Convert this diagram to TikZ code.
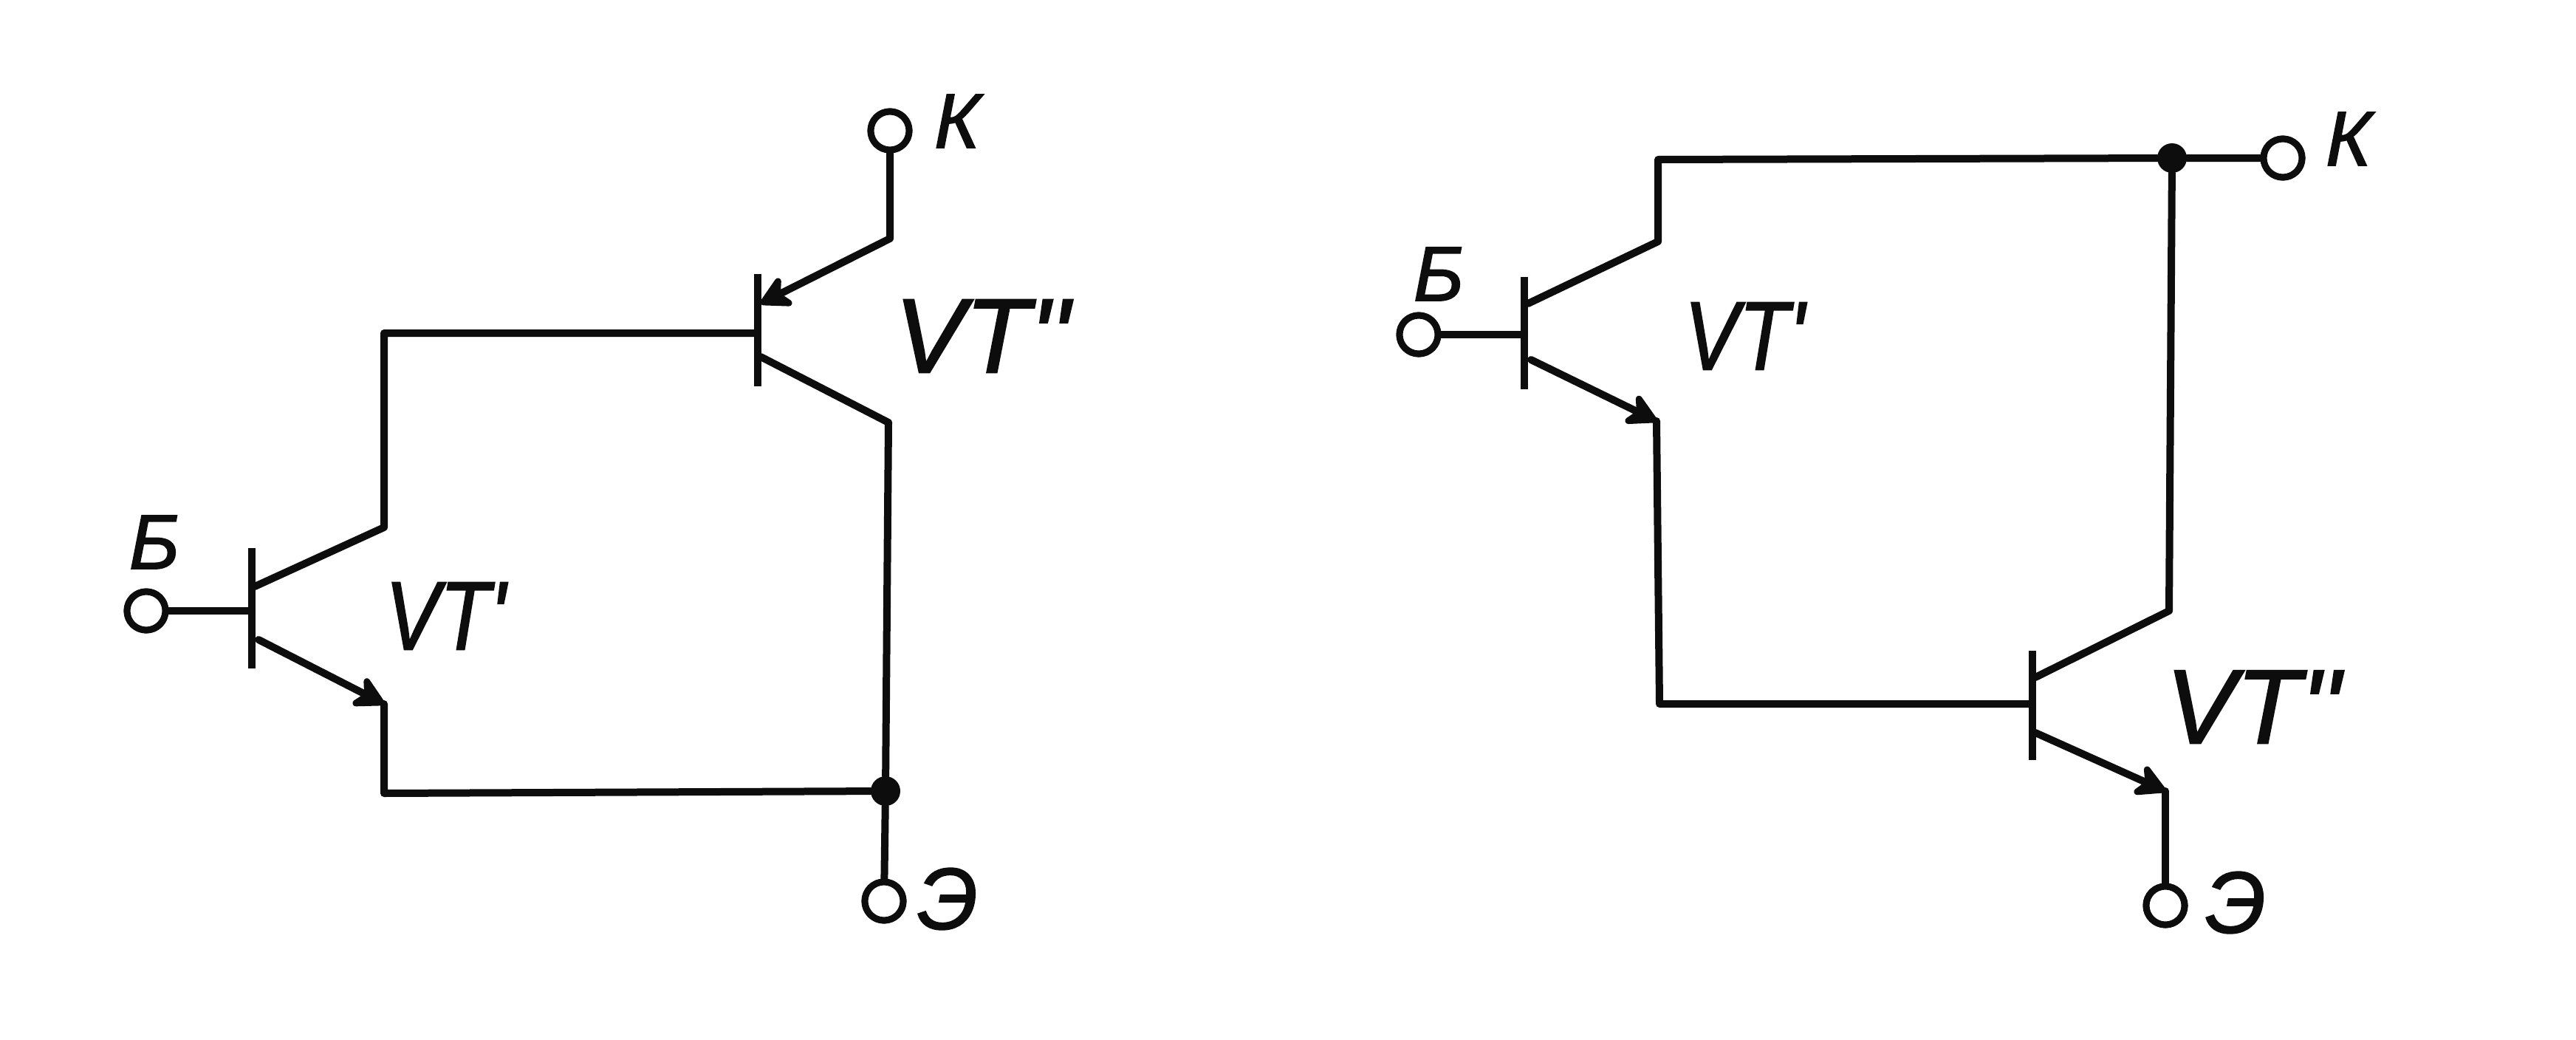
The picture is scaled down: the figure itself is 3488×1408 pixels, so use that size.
\documentclass[tikz,border=0pt]{standalone}
\usepackage{fontspec}
\usepackage{graphicx}
\usetikzlibrary{arrows.meta}
\newfontfamily\labfont[FakeBold=1.5]{Liberation Sans Italic}
\newcommand{\narrowed}[1]{\scalebox{0.84}[1]{#1}}
\tikzset{
  x=1pt,y=-1pt,
  wire/.style={draw=black!95,line width=10pt,line join=round,line cap=round},
  bar/.style={draw=black!95,line width=10pt,line cap=butt},
  emitarrow/.style={wire,-{Stealth[length=50pt,width=54pt,inset=15pt,round]}},
  term/.style={circle,draw=black!95,line width=9pt,fill=white,minimum size=52pt,inner sep=0pt},
  joint/.style={circle,fill=black!95,minimum size=40pt,inner sep=0pt},
  pin/.style={font=\labfont\fontsize{105}{105}\selectfont,inner sep=0pt,text=black!95},
  pinlarge/.style={font=\labfont\fontsize{118}{118}\selectfont,inner sep=0pt,text=black!95},
  vtone/.style={font=\labfont\fontsize{132}{132}\selectfont,inner sep=0pt,text=black!95},
  vttwo/.style={font=\labfont\fontsize{143}{143}\selectfont,inner sep=0pt,text=black!95},
}
\begin{document}
\begin{tikzpicture}
\useasboundingbox[fill=white] (0,0) rectangle (3488,1408);
% ---------- left circuit ----------
\node[term] (LK) at (1205,177) {};
\node[term] (LE) at (1197,1220) {};
\node[term] (LB) at (198,827) {};
\node[joint] (LJ) at (1199,1071) {};
\coordinate (Lb1t) at (341,742); \coordinate (Lb1b) at (341,905);
\coordinate (Lb1) at (341,827);
\coordinate (Lc1) at (345,794); \coordinate (Lk1) at (520,714);
\coordinate (Lv1) at (520,451); \coordinate (Lb2) at (1026,451);
\coordinate (Lb2t) at (1026,371); \coordinate (Lb2b) at (1026,523);
\coordinate (Le1) at (350,866); \coordinate (Lk2) at (520,953);
\coordinate (Lv2) at (520,1074);
\coordinate (Lk3) at (1205,323); \coordinate (Lt2) at (1030,411);
\coordinate (Lc2) at (1030,483); \coordinate (Lk4) at (1203,572);
\draw[bar] (Lb1t) -- (Lb1b);
\draw[bar] (Lb2t) -- (Lb2b);
\draw[wire] (LB) -- (Lb1);
\draw[wire] (Lc1) -- (Lk1) -- (Lv1) -- (Lb2);
\draw[emitarrow] (Le1) -- (Lk2);
\draw[wire] (Lk2) -- (Lv2) -- (LJ);
\draw[emitarrow] (LK) -- (Lk3) -- (Lt2);
\draw[wire] (Lc2) -- (Lk4) -- (LJ) -- (LE);
\node[term] at (LK) {};
\node[term] at (LE) {};
\node[term] at (LB) {};
\node[pin] (LKt) at (1296,164) {К};
\node[pinlarge] (LEt) at (1283,1217) {Э};
\node[pin] (LBt) at (209,734) {Б};
\node[vtone] (LV1) at (603,834) {\narrowed{VT'}};
\node[vttwo] (LV2) at (1330,455) {VT''};
% ---------- right circuit ----------
\node[term] (RK) at (3091,214) {};
\node[term] (RE) at (2932,1226) {};
\node[term] (RB) at (1921,453) {};
\node[joint] (RJ) at (2941,214) {};
\coordinate (Rb1t) at (2064,375); \coordinate (Rb1b) at (2064,527);
\coordinate (Rb1) at (2064,453);
\coordinate (Rc1) at (2069,411); \coordinate (Rk1) at (2245,327);
\coordinate (Rv1) at (2245,216);
\coordinate (Re1) at (2073,487); \coordinate (Rk2) at (2243,570);
\coordinate (Rv2) at (2247,953); \coordinate (Rb2) at (2752,953);
\coordinate (Rb2t) at (2752,881); \coordinate (Rb2b) at (2752,1029);
\coordinate (Rc2) at (2756,917); \coordinate (Rk3) at (2937,827);
\coordinate (Re2) at (2756,992); \coordinate (Rk4) at (2932,1071);
\draw[bar] (Rb1t) -- (Rb1b);
\draw[bar] (Rb2t) -- (Rb2b);
\draw[wire] (RB) -- (Rb1);
\draw[wire] (Rc1) -- (Rk1) -- (Rv1) -- (RJ) -- (RK);
\draw[emitarrow] (Re1) -- (Rk2);
\draw[wire] (Rk2) -- (Rv2) -- (Rb2);
\draw[wire] (Rc2) -- (Rk3) -- (RJ);
\draw[emitarrow] (Re2) -- (Rk4);
\draw[wire] (Rk4) -- (RE);
\node[term] at (RK) {};
\node[term] at (RE) {};
\node[term] at (RB) {};
\node[pin] (RKt) at (3180,188) {К};
\node[pinlarge] (REt) at (3027,1222) {Э};
\node[pin] (RBt) at (1948,371) {Б};
\node[vtone] (RV1) at (2362,455) {\narrowed{VT'}};
\node[vttwo] (RV2) at (3051,957) {VT''};
\end{tikzpicture}
\end{document}
